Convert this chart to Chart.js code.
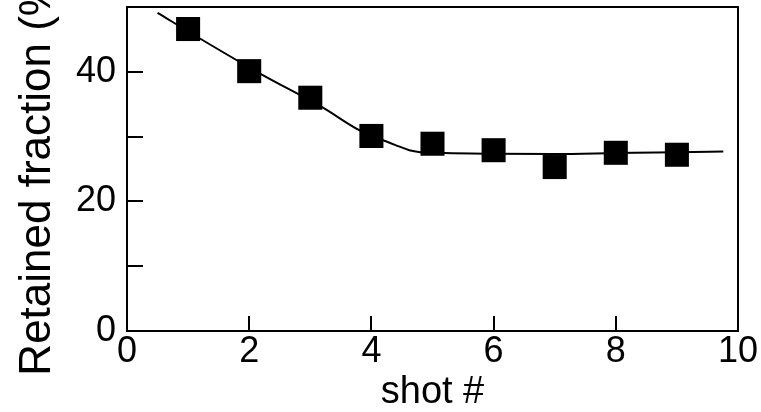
<!DOCTYPE html>
<html>
<head>
<meta charset="utf-8">
<script src="https://cdn.jsdelivr.net/npm/chart.js@4/dist/chart.umd.min.js"></script>
<style>
  html, body { margin: 0; padding: 0; background: #fff; }
  #wrap { width: 761px; height: 412px; }
</style>
</head>
<body>
<div id="wrap"><canvas id="c" width="761" height="412"></canvas></div>
<script>
// Measured data (shot number vs retained fraction, %)
const shots = [1, 2, 3, 4, 5, 6, 7, 8, 9];
const retained = [46.6, 40.1, 36.0, 30.1, 28.9, 27.9, 25.3, 27.5, 27.2];

// Fitted guide curve
const fitX = [0.5, 1.2, 2.2, 3.2, 3.8, 4.2, 4.45, 4.62, 4.8, 5.2, 6, 7, 8, 9, 9.76];
const fitY = [49.1, 45.1, 39.6, 34.5, 31.0, 29.4, 28.5, 27.9, 27.6, 27.45, 27.35, 27.3, 27.45, 27.6, 27.7];

// Axis settings
const xTicks = [0, 2, 4, 6, 8, 10];
const yLabelled = [0, 20, 40];

const FONT = "'Liberation Sans', Arial, Helvetica, sans-serif";

const frame = {
  id: 'frame',
  afterDatasetsDraw(chart) {
    const { ctx, chartArea: a } = chart;
    ctx.save();
    ctx.strokeStyle = '#000';
    ctx.lineWidth = 2;
    ctx.beginPath();
    ctx.moveTo(a.left, a.top);
    ctx.lineTo(a.right, a.top);
    ctx.lineTo(a.right, a.bottom);
    ctx.stroke();
    ctx.restore();
  }
};

new Chart(document.getElementById('c'), {
  type: 'scatter',
  data: {
    datasets: [
      {
        label: 'fit',
        data: fitX.map((x, i) => ({ x, y: fitY[i] })),
        showLine: true,
        borderColor: '#000',
        borderWidth: 2,
        pointRadius: 0,
        cubicInterpolationMode: 'monotone',
        order: 2
      },
      {
        label: 'retained',
        data: shots.map((x, i) => ({ x, y: retained[i] })),
        showLine: false,
        pointStyle: 'rect',
        pointRadius: 17,
        backgroundColor: '#000',
        borderColor: '#000',
        borderWidth: 0,
        order: 1
      }
    ]
  },
  options: {
    responsive: false,
    animation: false,
    devicePixelRatio: 1,
    layout: { autoPadding: false, padding: { top: 7, right: 23, bottom: 0, left: 0 } },
    plugins: { legend: { display: false }, tooltip: { enabled: false } },
    scales: {
      x: {
        type: 'linear',
        min: 0, max: 10,
        afterBuildTicks(s) { s.ticks = xTicks.map(v => ({ value: v })); },
        afterFit(s) { s.height = 81; s.paddingLeft = 0; s.paddingRight = 0; },
        ticks: {
          autoSkip: false,
          maxRotation: 0,
          padding: 18,
          color: '#000',
          font: { family: FONT, size: 36, lineHeight: 1 },
          callback: v => String(v)
        },
        grid: {
          display: true,
          drawOnChartArea: false,
          drawTicks: true,
          tickLength: -15,
          color: '#000',
          lineWidth: 2
        },
        border: { display: true, color: '#000', width: 2 },
        title: {
          display: true,
          text: 'shot #',
          color: '#000',
          font: { family: FONT, size: 38, lineHeight: 1 },
          padding: { top: 0, bottom: 0 }
        }
      },
      y: {
        type: 'linear',
        min: 0, max: 50,
        afterFit(s) { s.width = 127; s.paddingTop = 0; s.paddingBottom = 0; },
        ticks: {
          stepSize: 10,
          autoSkip: false,
          padding: 27,
          color: '#000',
          font: { family: FONT, size: 36, lineHeight: 1 },
          callback: v => (v === 50 ? null : (yLabelled.includes(v) ? String(v) : ''))
        },
        grid: {
          display: true,
          drawOnChartArea: false,
          drawTicks: true,
          tickLength: -16,
          color: '#000',
          lineWidth: 2
        },
        border: { display: true, color: '#000', width: 2 },
        title: {
          display: true,
          text: 'Retained fraction (%)',
          color: '#000',
          font: { family: FONT, size: 44, lineHeight: 1 },
          padding: { top: 16, bottom: 0 }
        }
      }
    }
  },
  plugins: [frame]
});
</script>
</body>
</html>
